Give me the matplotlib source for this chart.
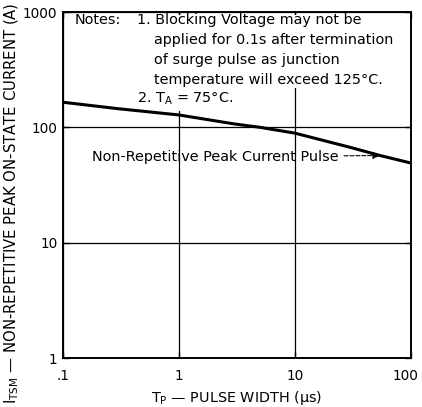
import matplotlib
matplotlib.use('Agg')
import matplotlib.pyplot as plt
import matplotlib.transforms as mtransforms
from matplotlib.patches import Rectangle

plt.rcParams['font.family'] = ['DejaVu Sans']

# pulse width (us) vs peak current (A)
pulse_width = [0.1, 0.3, 1, 3, 5, 10, 30, 54, 100]
peak_current = [165, 145, 128, 107, 100, 89, 67, 57, 49]

xticks = [0.1, 1, 10, 100]
xtick_labels = ['.1', '1', '10', '100']
yticks = [1, 10, 100, 1000]
ytick_labels = ['1', '10', '100', '1000']

fig = plt.figure(figsize=(4.22, 4.07), dpi=100)
ax = fig.add_axes([63/422, 1 - 358/407, 348/422, 346/407])

ax.set_xscale('log')
ax.set_yscale('log')
ax.set_xlim(0.1, 100)
ax.set_ylim(1, 1000)
ax.set_xticks(xticks)
ax.set_xticklabels(xtick_labels)
ax.set_yticks(yticks)
ax.set_yticklabels(ytick_labels)
ax.minorticks_off()
ax.tick_params(direction='in', length=4, width=1, labelsize=9.8,
               top=True, right=True)
ax.tick_params(axis='y', pad=4)
ax.tick_params(axis='x', pad=8)
ax.grid(True, which='major', color='black', linewidth=0.9)
for s in ax.spines.values():
    s.set_linewidth(1.4)

# nudge the last x label so it stays inside the picture
last = ax.get_xticklabels()[-1]
last.set_transform(last.get_transform() +
                   mtransforms.ScaledTranslation(-4/72, 0, fig.dpi_scale_trans))

# white area behind the notes hides the grid
ax.add_patch(Rectangle((0.005, 0.78), 0.99, 0.21, transform=ax.transAxes,
                       facecolor='white', edgecolor='none', zorder=2.5))
ax.add_patch(Rectangle((0.2, 0.715), 0.35, 0.07, transform=ax.transAxes,
                       facecolor='white', edgecolor='none', zorder=2.5))

ax.plot(pulse_width, peak_current, color='black', linewidth=2.2, zorder=4)

fs = 10.4
ax.text(0.034, 0.977, 'Notes:', transform=ax.transAxes, fontsize=fs, va='center', zorder=5)
ax.text(0.213, 0.977, '1. Blocking Voltage may not be', transform=ax.transAxes,
        fontsize=fs, va='center', zorder=5)
ax.text(0.261, 0.919, 'applied for 0.1s after termination', transform=ax.transAxes,
        fontsize=fs, va='center', zorder=5)
ax.text(0.261, 0.861, 'of surge pulse as junction', transform=ax.transAxes,
        fontsize=fs, va='center', zorder=5)
ax.text(0.261, 0.803, 'temperature will exceed 125°C.', transform=ax.transAxes,
        fontsize=fs, va='center', zorder=5)
ax.text(0.213, 0.749, '2. T$_\\mathregular{A}$ = 75°C.', transform=ax.transAxes,
        fontsize=fs, va='center', zorder=5)

ax.annotate('Non-Repetitive Peak Current Pulse', xy=(54, 57), xycoords='data',
            xytext=(0.083, 0.581), textcoords='axes fraction', fontsize=fs,
            va='center', zorder=5,
            arrowprops=dict(arrowstyle='-|>', color='black', lw=0.8,
                            linestyle='--', shrinkA=2, shrinkB=0))

ax.set_xlabel('T$_\\mathregular{P}$ — PULSE WIDTH (μs)', fontsize=fs, labelpad=4)
fig.text(12/422, 1 - 404/407,
         'I$_\\mathregular{TSM}$ — NON-REPETITIVE PEAK ON-STATE CURRENT (A)',
         rotation=90, ha='center', va='bottom', fontsize=10.7)

fig.savefig('out.png', dpi=100)
